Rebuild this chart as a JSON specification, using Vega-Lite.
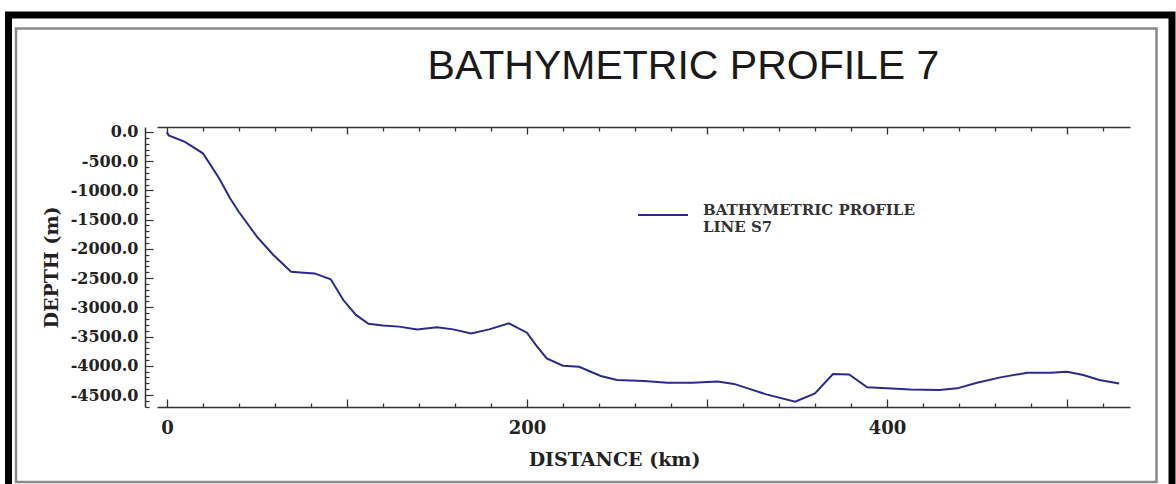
{
  "$schema": "https://vega.github.io/schema/vega-lite/v6.json",
  "width": 973,
  "height": 280,
  "autosize": {"type": "none"},
  "padding": {"left": 157, "top": 127, "right": 46, "bottom": 77},
  "background": "white",
  "title": {
    "text": "BATHYMETRIC PROFILE 7",
    "font": "Liberation Sans",
    "fontSize": 41,
    "fontWeight": "normal",
    "color": "#1a1a1a",
    "anchor": "middle",
    "frame": "group",
    "dx": 40,
    "baseline": "alphabetic",
    "offset": -108
  },
  "config": {
    "view": {"stroke": null},
    "style": {"guide-label": {"lineHeight": 17}}
  },
  "data": {
    "values": [
      {"km": 0, "depth": 0},
      {"km": 1, "depth": -60},
      {"km": 10, "depth": -170},
      {"km": 20, "depth": -365},
      {"km": 29, "depth": -790},
      {"km": 35, "depth": -1130},
      {"km": 40, "depth": -1370},
      {"km": 50, "depth": -1790},
      {"km": 59, "depth": -2100},
      {"km": 69, "depth": -2390},
      {"km": 76, "depth": -2407},
      {"km": 82, "depth": -2420},
      {"km": 91, "depth": -2520},
      {"km": 98, "depth": -2875},
      {"km": 105, "depth": -3130},
      {"km": 112, "depth": -3280},
      {"km": 120, "depth": -3310},
      {"km": 129, "depth": -3330},
      {"km": 139, "depth": -3377},
      {"km": 150, "depth": -3342},
      {"km": 159, "depth": -3377},
      {"km": 169, "depth": -3446},
      {"km": 179, "depth": -3377},
      {"km": 190, "depth": -3275},
      {"km": 200, "depth": -3434},
      {"km": 205, "depth": -3645},
      {"km": 211, "depth": -3873},
      {"km": 220, "depth": -3999},
      {"km": 229, "depth": -4016},
      {"km": 241, "depth": -4175},
      {"km": 250, "depth": -4244},
      {"km": 265, "depth": -4261},
      {"km": 278, "depth": -4290},
      {"km": 292, "depth": -4290},
      {"km": 306, "depth": -4268},
      {"km": 315, "depth": -4310},
      {"km": 324, "depth": -4400},
      {"km": 333, "depth": -4489},
      {"km": 349, "depth": -4615},
      {"km": 360, "depth": -4472},
      {"km": 370, "depth": -4141},
      {"km": 379, "depth": -4147},
      {"km": 389, "depth": -4369},
      {"km": 400, "depth": -4386},
      {"km": 413, "depth": -4404},
      {"km": 429, "depth": -4415},
      {"km": 439, "depth": -4386},
      {"km": 450, "depth": -4290},
      {"km": 463, "depth": -4198},
      {"km": 478, "depth": -4119},
      {"km": 491, "depth": -4119},
      {"km": 500, "depth": -4102},
      {"km": 509, "depth": -4158},
      {"km": 518, "depth": -4244},
      {"km": 529, "depth": -4302}
    ]
  },
  "resolve": {"axis": {"x": "independent", "y": "independent"}},
  "layer": [
    {
      "data": {"values": [{}]},
      "mark": {"type": "rect", "filled": false, "stroke": "#000000", "strokeWidth": 7, "clip": false},
      "encoding": {
        "x": {"datum": -87.99, "type": "quantitative", "scale": {"domain": [-5.5, 535], "nice": false, "zero": false}, "axis": null},
        "x2": {"datum": 558.33},
        "y": {"datum": 2001, "type": "quantitative", "scale": {"domain": [-4705, 85], "nice": false, "zero": false}, "axis": null},
        "y2": {"datum": -6210}
      }
    },
    {
      "data": {"values": [{}]},
      "mark": {"type": "rect", "filled": false, "stroke": "#8a8a8a", "strokeWidth": 2.5, "clip": false},
      "encoding": {
        "x": {"datum": -83.82, "type": "quantitative", "scale": {"domain": [-5.5, 535], "nice": false, "zero": false}, "axis": null},
        "x2": {"datum": 549.72},
        "y": {"datum": 1770, "type": "quantitative", "scale": {"domain": [-4705, 85], "nice": false, "zero": false}, "axis": null},
        "y2": {"datum": -5988}
      }
    },
    {
      "mark": {"type": "line", "strokeOpacity": 0},
      "encoding": {
        "x": {
          "field": "km", "type": "quantitative",
          "scale": {"domain": [-5.5, 535], "nice": false, "zero": false},
          "axis": {
            "orient": "top",
            "values": [0, 20, 40, 60, 80, 100, 120, 140, 160, 180, 200, 220, 240, 260, 280, 300, 320, 340, 360, 380, 400, 420, 440, 460, 480, 500, 520],
            "labels": false,
            "title": null,
            "grid": false,
            "domainColor": "#333333",
            "domainWidth": 1.5,
            "tickColor": "#333333",
            "tickWidth": 1.3,
            "tickSize": {"condition": {"test": "datum.value % 100 === 0", "value": -7}, "value": -4}
          }
        },
        "y": {"field": "depth", "type": "quantitative", "scale": {"domain": [-4705, 85], "nice": false, "zero": false}, "axis": null}
      }
    },
    {
      "mark": {"type": "line", "strokeWidth": 2},
      "encoding": {
        "x": {
          "field": "km", "type": "quantitative",
          "scale": {"domain": [-5.5, 535], "nice": false, "zero": false},
          "axis": {
            "orient": "bottom",
            "values": [0, 20, 40, 60, 80, 100, 120, 140, 160, 180, 200, 220, 240, 260, 280, 300, 320, 340, 360, 380, 400, 420, 440, 460, 480, 500, 520],
            "format": "d",
            "labelExpr": "datum.value % 200 === 0 ? datum.label : ''",
            "labelOverlap": false,
            "labelFlush": false,
            "labelFont": "DejaVu Serif",
            "labelFontWeight": "bold",
            "labelFontSize": 18,
            "labelColor": "#222222",
            "labelPadding": 20,
            "grid": false,
            "domainColor": "#333333",
            "domainWidth": 1.5,
            "tickColor": "#333333",
            "tickWidth": 1.3,
            "tickSize": {"condition": {"test": "datum.value % 100 === 0", "value": -8}, "value": -4},
            "title": "DISTANCE (km)",
            "titleFont": "DejaVu Serif",
            "titleFontWeight": "bold",
            "titleFontSize": 19,
            "titleColor": "#222222",
            "titleX": 457,
            "titleY": 58,
            "titleAlign": "center",
            "titleBaseline": "alphabetic"
          }
        },
        "y": {
          "field": "depth", "type": "quantitative",
          "scale": {"domain": [-4705, 85], "nice": false, "zero": false},
          "axis": {
            "orient": "left",
            "offset": 12,
            "values": [-4700, -4600, -4500, -4400, -4300, -4200, -4100, -4000, -3900, -3800, -3700, -3600, -3500, -3400, -3300, -3200, -3100, -3000, -2900, -2800, -2700, -2600, -2500, -2400, -2300, -2200, -2100, -2000, -1900, -1800, -1700, -1600, -1500, -1400, -1300, -1200, -1100, -1000, -900, -800, -700, -600, -500, -400, -300, -200, -100, 0],
            "labelExpr": "datum.value % 500 === 0 ? (datum.value < 0 ? '-' : '') + format(abs(datum.value), '.1f') : ''",
            "labelOverlap": false,
            "labelFlush": false,
            "labelFont": "DejaVu Serif",
            "labelFontWeight": "bold",
            "labelFontSize": 16,
            "labelColor": "#222222",
            "labelPadding": 15,
            "grid": false,
            "domainColor": "#333333",
            "domainWidth": 1.5,
            "tickColor": "#333333",
            "tickWidth": 1.2,
            "tickSize": {"condition": {"test": "datum.value % 500 === 0", "value": -8}, "value": -4},
            "title": "DEPTH (m)",
            "titleFont": "DejaVu Serif",
            "titleFontWeight": "bold",
            "titleFontSize": 19,
            "titleColor": "#222222",
            "titleX": -88,
            "titleY": 140,
            "titleAngle": -90,
            "titleAlign": "center",
            "titleBaseline": "alphabetic"
          }
        },
        "color": {
          "datum": "BATHYMETRIC PROFILE LINE S7",
          "type": "nominal",
          "scale": {"range": ["#2a2a8e"]},
          "legend": {
            "orient": "none",
            "legendX": 480,
            "legendY": 62,
            "title": null,
            "padding": 0,
            "symbolType": "stroke",
            "symbolSize": 2500,
            "symbolStrokeWidth": 1.8,
            "labelFont": "DejaVu Serif",
            "labelFontWeight": "bold",
            "labelFontSize": 15,
            "labelColor": "#333333",
            "labelOffset": 14,
            "labelLimit": 400,
            "labelBaseline": "alphabetic",
            "labelExpr": "[slice(datum.label, 0, 19), slice(datum.label, 20)]"
          }
        }
      }
    }
  ]
}
